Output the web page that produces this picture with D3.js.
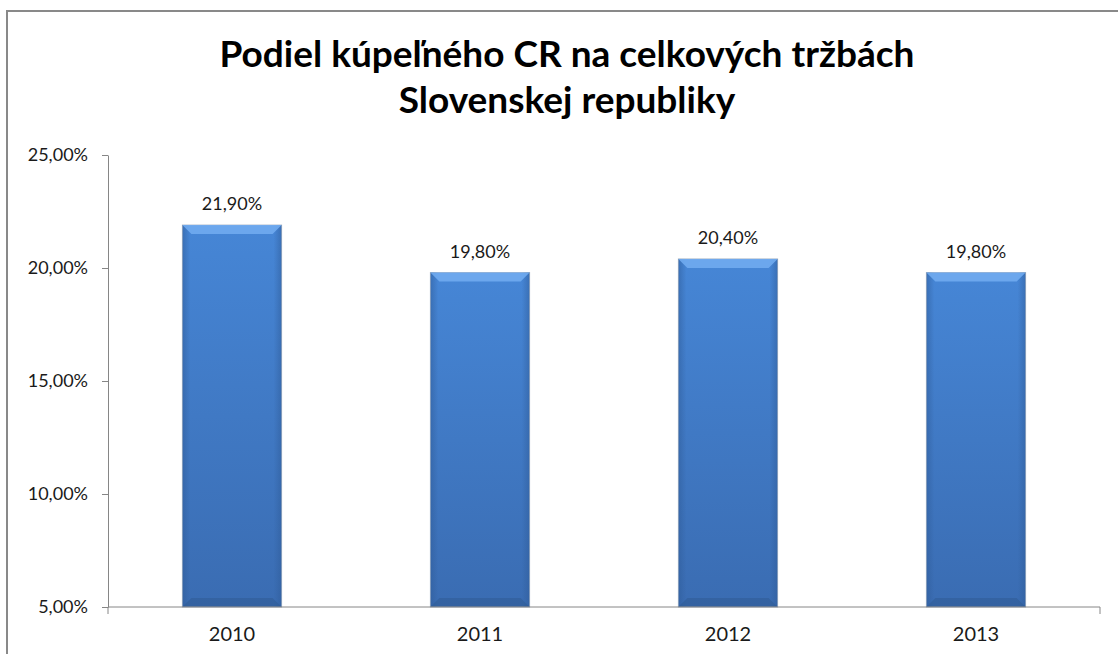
<!DOCTYPE html>
<html>
<head>
<meta charset="utf-8">
<script src="https://cdn.jsdelivr.net/npm/d3@7"></script>
<style>
  body { margin: 0; background: #fff; overflow: hidden; }
  svg { display: block; }
  text { font-family: Lato, "Open Sans", sans-serif; fill: #1a1a1a; }
</style>
</head>
<body>
<div id="chart"></div>
<script>
const years = ['2010', '2011', '2012', '2013'];
const shares = [21.9, 19.8, 20.4, 19.8];
const yTicks = [5, 10, 15, 20, 25];
const titleLines = ['Podiel kúpeľného CR na celkových tržbách', 'Slovenskej republiky'];

const W = 1118, H = 654;
const plot = { left: 108, right: 1100, top: 155, bottom: 607 };
const fmt = (v) => v.toFixed(2).replace('.', ',') + '%';

const svg = d3.select('#chart').append('svg')
    .attr('width', W)
    .attr('height', H);

const defs = svg.append('defs');
const body = defs.append('linearGradient')
    .attr('id', 'bar-body')
    .attr('x1', 0).attr('y1', 0).attr('x2', 0).attr('y2', 1);
body.append('stop').attr('offset', '0%').attr('stop-color', '#4686d6');
body.append('stop').attr('offset', '100%').attr('stop-color', '#3a6cb2');

const side = defs.append('linearGradient')
    .attr('id', 'bar-side')
    .attr('x1', 0).attr('y1', 0).attr('x2', 1).attr('y2', 0);
side.append('stop').attr('offset', '0%').attr('stop-color', '#2e5a96').attr('stop-opacity', 0.5);
side.append('stop').attr('offset', '8%').attr('stop-color', '#2e5a96').attr('stop-opacity', 0);
side.append('stop').attr('offset', '92%').attr('stop-color', '#2e5a96').attr('stop-opacity', 0);
side.append('stop').attr('offset', '100%').attr('stop-color', '#2e5a96').attr('stop-opacity', 0.5);

// frame (right and bottom edges fall outside the picture)
svg.append('path')
    .attr('d', `M7,${H} V11 H${W}`)
    .attr('fill', 'none')
    .attr('stroke', '#898989')
    .attr('stroke-width', 2);

// title
svg.append('g')
    .selectAll('text')
    .data(titleLines)
    .enter()
    .append('text')
    .attr('x', 567)
    .attr('y', (d, i) => 67 + i * 46)
    .attr('text-anchor', 'middle')
    .style('font-size', '37px')
    .style('font-weight', 'bold')
    .style('fill', '#000')
    .text((d) => d);

const x = d3.scaleBand()
    .domain(years)
    .range([plot.left, plot.right])
    .paddingInner(0.6)
    .paddingOuter(0.3);

const y = d3.scaleLinear()
    .domain([5, 25])
    .range([plot.bottom, plot.top]);

// y axis
const yAxis = svg.append('g')
    .attr('transform', `translate(${plot.left},0)`)
    .call(d3.axisLeft(y).tickValues(yTicks).tickFormat(fmt).tickSize(6).tickSizeOuter(0).tickPadding(14));
yAxis.select('.domain').attr('stroke', '#868686');
yAxis.selectAll('.tick line').attr('stroke', '#868686');
yAxis.selectAll('.tick text').style('font-size', '18px').attr('fill', '#1a1a1a');

// bars
const bars = svg.append('g')
    .selectAll('g')
    .data(years)
    .enter()
    .append('g');

bars.append('rect')
    .attr('x', (d) => x(d))
    .attr('y', (d, i) => y(shares[i]))
    .attr('width', x.bandwidth())
    .attr('height', (d, i) => y(5) - y(shares[i]))
    .attr('fill', 'url(#bar-body)')
    .attr('stroke', '#a9b7c9')
    .attr('stroke-width', 1);

bars.append('rect')
    .attr('x', (d) => x(d))
    .attr('y', (d, i) => y(shares[i]))
    .attr('width', x.bandwidth())
    .attr('height', (d, i) => y(5) - y(shares[i]))
    .attr('fill', 'url(#bar-side)');

// top bevel
bars.append('path')
    .attr('d', (d, i) => {
        const x0 = x(d), x1 = x(d) + x.bandwidth(), t = y(shares[i]);
        return `M${x0},${t} H${x1} L${x1 - 9},${t + 9} H${x0 + 9} Z`;
    })
    .attr('fill', '#70abef')
    .attr('opacity', 0.9);

// bottom bevel
bars.append('path')
    .attr('d', (d) => {
        const x0 = x(d), x1 = x(d) + x.bandwidth(), b = y(5);
        return `M${x0},${b} H${x1} L${x1 - 9},${b - 9} H${x0 + 9} Z`;
    })
    .attr('fill', '#2f5b94')
    .attr('opacity', 0.55);

bars.append('text')
    .attr('x', (d) => x(d) + x.bandwidth() / 2)
    .attr('y', (d, i) => y(shares[i]) - 15)
    .attr('text-anchor', 'middle')
    .style('font-size', '18px')
    .text((d, i) => fmt(shares[i]));

// x axis
const xAxis = svg.append('g')
    .attr('transform', `translate(0,${plot.bottom})`)
    .call(d3.axisBottom(x).tickSize(0).tickPadding(20));
xAxis.select('.domain').attr('d', `M${plot.left},7 V0 H${plot.right} V7`).attr('stroke', '#868686');
xAxis.selectAll('.tick text').style('font-size', '20px').attr('fill', '#1a1a1a');
</script>
</body>
</html>
